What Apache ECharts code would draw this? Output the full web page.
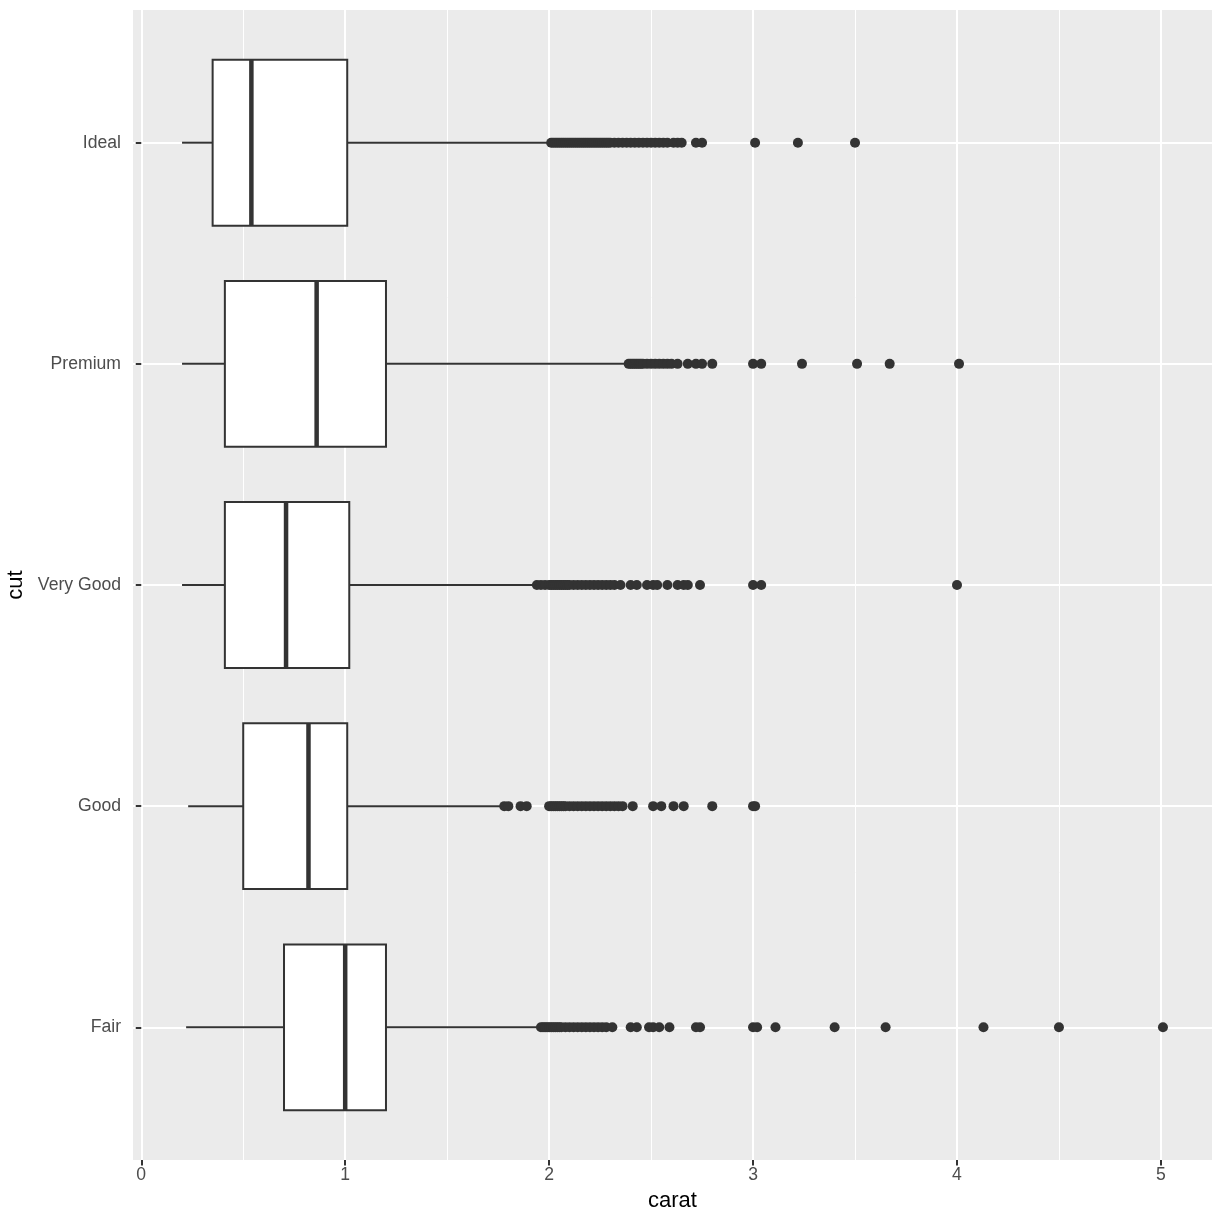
<!DOCTYPE html>
<html><head><meta charset="utf-8">
<script src="https://cdn.jsdelivr.net/npm/echarts@6/dist/echarts.min.js"></script>
<style>html,body{margin:0;padding:0;background:#fff}#c{width:1224px;height:1224px}</style>
</head><body><div id="c"></div>
<script>
const categories = ['Fair', 'Good', 'Very Good', 'Premium', 'Ideal'];
const whiskerLow = [0.22, 0.23, 0.20, 0.20, 0.20];
const q1 = [0.70, 0.50, 0.41, 0.41, 0.35];
const median = [1.00, 0.82, 0.71, 0.86, 0.54];
const q3 = [1.20, 1.01, 1.02, 1.20, 1.01];
const whiskerHigh = [1.94, 1.77, 1.93, 2.38, 2.00];

const outliersFair = [1.96,1.97,1.98,1.99,2,2.01,2.02,2.03,2.04,2.05,2.06,2.08,2.1,2.12,2.14,2.16,2.18,2.2,2.22,2.24,2.26,2.28,2.31,2.4,2.43,2.49,2.51,2.54,2.59,2.72,2.74,3,3.02,3.11,3.4,3.65,4.13,4.5,5.01];
const outliersGood = [1.78,1.8,1.86,1.89,2,2.01,2.02,2.03,2.04,2.05,2.06,2.07,2.08,2.1,2.12,2.14,2.16,2.18,2.2,2.22,2.24,2.26,2.28,2.3,2.32,2.34,2.36,2.41,2.51,2.55,2.61,2.66,2.8,3,3.01];
const outliersVeryGood = [1.94,1.96,1.98,2,2.01,2.02,2.03,2.04,2.05,2.06,2.07,2.08,2.09,2.1,2.12,2.14,2.16,2.18,2.2,2.22,2.24,2.26,2.28,2.3,2.32,2.35,2.4,2.43,2.48,2.51,2.53,2.58,2.63,2.66,2.68,2.74,3,3.04,4];
const outliersPremium = [2.39,2.4,2.41,2.42,2.43,2.44,2.45,2.46,2.48,2.5,2.52,2.54,2.56,2.58,2.6,2.63,2.68,2.72,2.75,2.8,3,3.04,3.24,3.51,3.67,4.01];
const outliersIdeal = [2.01,2.02,2.03,2.04,2.05,2.06,2.07,2.08,2.09,2.1,2.11,2.12,2.13,2.14,2.15,2.16,2.17,2.18,2.19,2.2,2.21,2.22,2.23,2.24,2.25,2.26,2.27,2.28,2.29,2.3,2.32,2.34,2.36,2.38,2.4,2.42,2.44,2.46,2.48,2.5,2.52,2.54,2.56,2.58,2.61,2.63,2.65,2.72,2.75,3.01,3.22,3.5];

const xTicks = [0, 1, 2, 3, 4, 5];
const xMinor = [0.5, 1.5, 2.5, 3.5, 4.5];
const yTicks = [1, 2, 3, 4, 5];

const outlierSets = [outliersFair, outliersGood, outliersVeryGood, outliersPremium, outliersIdeal];
const boxData = categories.map((c, i) => [i + 1, whiskerLow[i], q1[i], median[i], q3[i], whiskerHigh[i]]);
const outlierData = [];
outlierSets.forEach((arr, i) => arr.forEach(v => outlierData.push([v, i + 1])));

const FONT = 'Liberation Sans, Arial, sans-serif';
const chart = echarts.init(document.getElementById('c'), null, {renderer: 'canvas'});
chart.setOption({
  animation: false,
  backgroundColor: '#ffffff',
  grid: {left: 133, right: 12, top: 10, bottom: 64, show: true, backgroundColor: '#EBEBEB', borderWidth: 0, containLabel: false, outerBoundsMode: 'none'},
  xAxis: [{
    type: 'value', min: -0.0405, max: 5.2505,
    name: 'carat', nameLocation: 'middle', nameGap: 30,
    nameTextStyle: {fontFamily: FONT, fontSize: 22, color: '#000'},
    axisLine: {show: false},
    axisTick: {show: true, length: 5.5, customValues: xTicks, lineStyle: {color: '#333', width: 2}},
    axisLabel: {customValues: xTicks, margin: 6, fontFamily: FONT, fontSize: 17.6, color: '#4D4D4D', formatter: v => String(v)},
    splitLine: {show: true, lineStyle: {color: '#ffffff', width: 2}}
  }, {
    type: 'value', min: -0.0405, max: 5.2505, position: 'bottom',
    axisLine: {show: false},
    axisTick: {show: false, customValues: xMinor},
    axisLabel: {show: false, customValues: xMinor},
    splitLine: {show: true, lineStyle: {color: '#ffffff', width: 1}}
  }],
  yAxis: {
    type: 'value', min: 0.4, max: 5.6,
    name: 'cut', nameLocation: 'middle', nameGap: 105, nameRotate: 90,
    nameTextStyle: {fontFamily: FONT, fontSize: 22, color: '#000'},
    axisLine: {show: false},
    axisTick: {show: true, length: 5.5, customValues: yTicks, lineStyle: {color: '#333', width: 2}},
    axisLabel: {customValues: yTicks, margin: 12, fontFamily: FONT, fontSize: 17.6, color: '#4D4D4D', formatter: v => categories[Math.round(v) - 1]},
    splitLine: {show: true, lineStyle: {color: '#ffffff', width: 2}}
  },
  series: [{
    type: 'custom',
    xAxisIndex: 0,
    data: boxData,
    encode: {x: [1, 2, 3, 4, 5], y: 0},
    z: 3,
    renderItem: function (params, api) {
      const y = api.value(0);
      const lo = api.coord([api.value(1), y]);
      const a = api.coord([api.value(2), y]);
      const m = api.coord([api.value(3), y]);
      const b = api.coord([api.value(4), y]);
      const hi = api.coord([api.value(5), y]);
      const h = api.size([0, 0.75])[1];
      const top = lo[1] - h / 2;
      const st = {stroke: '#333333', lineWidth: 2};
      return {type: 'group', children: [
        {type: 'line', shape: {x1: lo[0], y1: lo[1], x2: a[0], y2: a[1]}, style: st},
        {type: 'line', shape: {x1: b[0], y1: b[1], x2: hi[0], y2: hi[1]}, style: st},
        {type: 'rect', shape: {x: a[0], y: top, width: b[0] - a[0], height: h}, style: {fill: '#ffffff', stroke: '#333333', lineWidth: 2}},
        {type: 'line', shape: {x1: m[0], y1: top, x2: m[0], y2: top + h}, style: {stroke: '#333333', lineWidth: 4.5}}
      ]};
    }
  }, {
    type: 'scatter',
    xAxisIndex: 0,
    data: outlierData,
    symbol: 'circle',
    symbolSize: 10,
    itemStyle: {color: '#333333', opacity: 1},
    z: 4
  }]
});
</script>
</body></html>
